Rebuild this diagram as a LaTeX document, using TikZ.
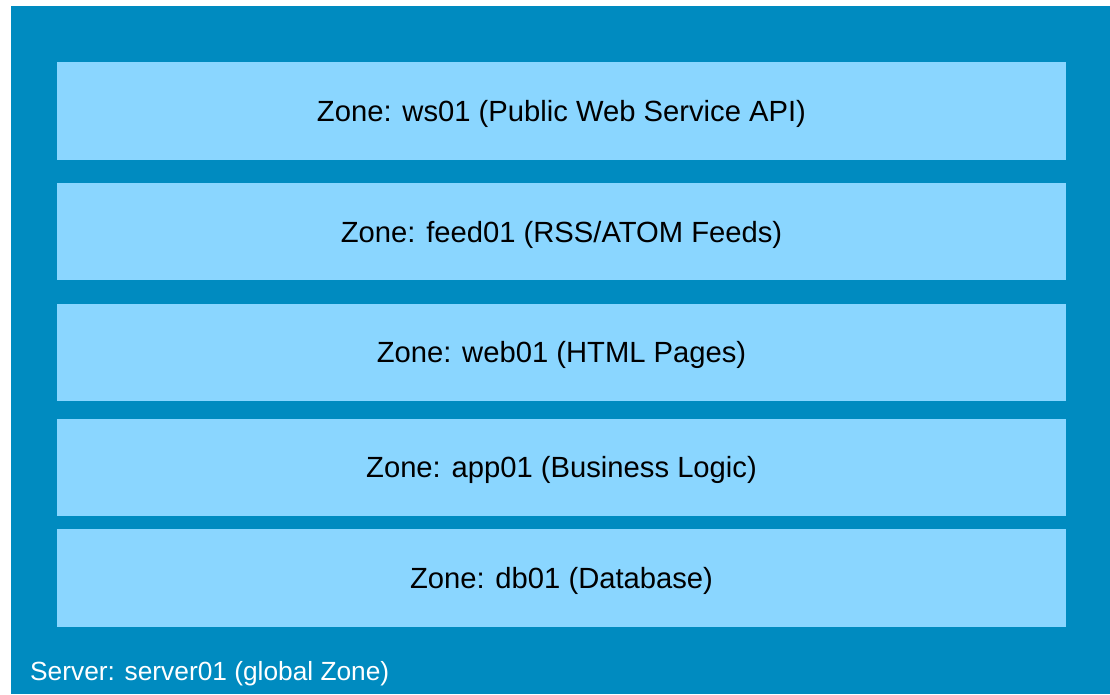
\documentclass[tikz,border=0pt]{standalone}
\usepackage{fontspec}
\setmainfont{Liberation Sans}
\definecolor{outerblue}{HTML}{008BC0}
\definecolor{zoneblue}{HTML}{8AD6FF}
\begin{document}
\begin{tikzpicture}[x=1pt,y=-1pt,
  zonebox/.style={fill=zoneblue,draw=none},
  zonelabel/.style={font=\fontsize{29.2}{34}\selectfont,text=black,inner sep=0pt}]
\useasboundingbox (0,0) rectangle (1110,694);
\fill[outerblue] (11,6) rectangle (1110,694);
\fill[zonebox] (57,62) rectangle (1066,160);
\fill[zonebox] (57,183) rectangle (1066,280);
\fill[zonebox] (57,304) rectangle (1066,401);
\fill[zonebox] (57,419) rectangle (1066,516);
\fill[zonebox] (57,529) rectangle (1066,627);
\node[zonelabel,anchor=base] (z1) at (561.5,121) {Zone: ws01 (Public Web Service API)};
\node[zonelabel,anchor=base] (z2) at (561.5,242) {Zone: feed01 (RSS/ATOM Feeds)};
\node[zonelabel,anchor=base] (z3) at (561.5,362) {Zone: web01 (HTML Pages)};
\node[zonelabel,anchor=base] (z4) at (561.5,477) {Zone: app01 (Business Logic)};
\node[zonelabel,anchor=base] (z5) at (561.5,588) {Zone: db01 (Database)};
\node[font=\fontsize{26.3}{30}\selectfont,text=white,inner sep=0pt,anchor=base west] (srv) at (30,680) {Server: server01 (global Zone)};
\end{tikzpicture}
\end{document}
